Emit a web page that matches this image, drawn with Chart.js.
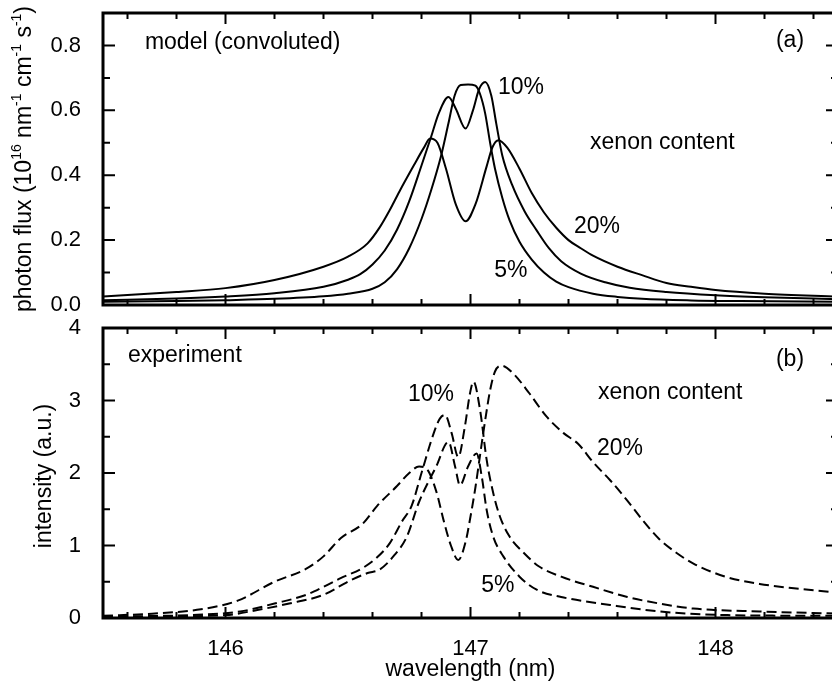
<!DOCTYPE html>
<html>
<head>
<meta charset="utf-8">
<script src="https://cdn.jsdelivr.net/npm/chart.js@4.4.1/dist/chart.umd.min.js"></script>
<style>
html,body{margin:0;padding:0;background:#fff;overflow:hidden;}
#wrap{position:relative;width:832px;height:683px;overflow:hidden;background:#fff;}
canvas{position:absolute;left:0;}
#c1{top:0;}
#c2{top:315px;}
</style>
</head>
<body>
<div id="wrap">
<canvas id="c1" width="850" height="320" style="width:850px;height:320px"></canvas>
<canvas id="c2" width="850" height="368" style="width:850px;height:368px"></canvas>
</div>
<script>
// ---------- data: model (convoluted), panel (a) ----------
const model5Wl = [145.5,145.8,146.0,146.2,146.4,146.5,146.6,146.65,146.7,146.75,146.8,146.84,146.88,146.91,146.935,146.96,146.99,147.02,147.04,147.06,147.08,147.1,147.13,147.16,147.2,147.25,147.3,147.35,147.4,147.5,147.6,147.7,147.9,148.1,148.5];
const model5Flux = [0.010,0.012,0.015,0.019,0.027,0.035,0.05,0.07,0.11,0.175,0.265,0.355,0.46,0.56,0.645,0.678,0.680,0.676,0.648,0.59,0.50,0.42,0.33,0.26,0.195,0.14,0.10,0.072,0.055,0.035,0.025,0.019,0.014,0.012,0.010];

const model10Wl = [145.5,145.8,146.0,146.2,146.4,146.5,146.55,146.6,146.65,146.7,146.75,146.8,146.84,146.87,146.91,146.94,146.98,147.01,147.035,147.06,147.085,147.105,147.13,147.17,147.22,147.27,147.32,147.37,147.45,147.55,147.65,147.8,148.0,148.2,148.5];
const model10Flux = [0.015,0.020,0.026,0.036,0.056,0.078,0.095,0.125,0.168,0.232,0.32,0.43,0.52,0.59,0.641,0.605,0.544,0.60,0.665,0.687,0.645,0.56,0.46,0.37,0.29,0.23,0.175,0.135,0.097,0.07,0.053,0.04,0.03,0.024,0.018];

const model20Wl = [145.5,145.8,146.0,146.2,146.4,146.5,146.58,146.63,146.67,146.71,146.77,146.81,146.835,146.865,146.9,146.94,146.98,147.02,147.065,147.09,147.114,147.15,147.2,147.25,147.3,147.35,147.4,147.45,147.5,147.6,147.7,147.8,147.9,148.0,148.2,148.5];
const model20Flux = [0.026,0.04,0.052,0.077,0.118,0.149,0.19,0.24,0.292,0.35,0.432,0.485,0.513,0.50,0.42,0.31,0.258,0.31,0.425,0.487,0.508,0.485,0.42,0.345,0.285,0.238,0.20,0.175,0.152,0.118,0.092,0.068,0.056,0.046,0.035,0.026];

// ---------- data: experiment, panel (b) ----------
const exp5Wl = [145.5,146.0,146.13,146.26,146.4,146.51,146.58,146.63,146.69,146.74,146.79,146.86,146.91,146.937,146.957,146.99,147.025,147.046,147.066,147.093,147.134,147.2,147.27,147.37,147.57,147.77,148.05,148.5];
const exp5Int = [0.01,0.04,0.11,0.20,0.32,0.52,0.62,0.67,0.87,1.12,1.6,2.09,2.43,2.09,1.83,2.09,2.27,1.95,1.49,1.12,0.85,0.57,0.39,0.29,0.18,0.09,0.04,0.03];

const exp10Wl = [145.5,145.85,146.06,146.2,146.33,146.4,146.47,146.56,146.62,146.67,146.72,146.76,146.8,146.85,146.875,146.896,146.923,146.95,146.977,146.998,147.012,147.039,147.066,147.093,147.12,147.16,147.22,147.28,147.37,147.5,147.64,147.77,147.91,148.18,148.5];
const exp10Int = [0.02,0.04,0.09,0.2,0.32,0.43,0.55,0.69,0.84,1.03,1.33,1.55,2.0,2.55,2.75,2.8,2.55,2.22,2.64,3.1,3.26,2.87,2.18,1.72,1.4,1.12,0.89,0.71,0.57,0.43,0.29,0.2,0.13,0.09,0.06];

const exp20Wl = [145.5,145.7,145.9,146.05,146.2,146.33,146.4,146.47,146.56,146.62,146.7,146.75,146.79,146.82,146.86,146.89,146.92,146.95,146.98,147.0,147.02,147.04,147.06,147.08,147.1,147.127,147.175,147.24,147.31,147.38,147.44,147.5,147.57,147.64,147.7,147.77,147.84,147.91,148.04,148.18,148.32,148.5];
const exp20Int = [0.03,0.06,0.12,0.24,0.5,0.68,0.85,1.1,1.3,1.55,1.82,2.0,2.09,2.06,1.75,1.35,1.0,0.8,1.05,1.4,1.8,2.27,2.73,3.14,3.4,3.48,3.37,3.1,2.78,2.55,2.4,2.15,1.9,1.62,1.36,1.09,0.9,0.75,0.57,0.47,0.41,0.35];

// ---------- axes ----------
const xRange = [145.5, 148.5];
const xTickLabels = [146, 147, 148];
const fluxRange = [0, 0.9];
const fluxTickLabels = [0, 0.2, 0.4, 0.6, 0.8];
const intRange = [0, 4];
const intTickLabels = [0, 1, 2, 3, 4];

const FONT = "'Liberation Sans', Arial, Helvetica, sans-serif";
Chart.defaults.font.family = FONT;
Chart.defaults.font.size = 22;
Chart.defaults.color = '#000';

function pts(xs, ys){ return xs.map((x,i)=>({x:x, y:ys[i]})); }

function minorTicks(lo, hi, step, majors){
  const out = [];
  const n = Math.round((hi-lo)/step);
  for (let i=0;i<=n;i++){
    const v = +(lo + i*step).toFixed(6);
    if (!majors.some(m=>Math.abs(m-v)<1e-6)) out.push(v);
  }
  return out;
}

function noPad(s){ s.paddingTop=0; s.paddingBottom=0; s.paddingLeft=0; s.paddingRight=0; }

function decor(opts){
  return {
    id:'decor',
    afterDatasetsDraw(chart){
      const {ctx, chartArea:a, scales:{x,y}} = chart;
      ctx.save();
      ctx.strokeStyle='#000';
      ctx.lineWidth=2;
      ctx.beginPath();
      const xMaj = xTickLabels, xMin = minorTicks(145.6,148.4,0.2,xMaj);
      xMaj.forEach(v=>{const p=x.getPixelForValue(v);ctx.moveTo(p,a.top);ctx.lineTo(p,a.top+11);ctx.moveTo(p,a.bottom);ctx.lineTo(p,a.bottom-11);});
      xMin.forEach(v=>{const p=x.getPixelForValue(v);ctx.moveTo(p,a.top);ctx.lineTo(p,a.top+6);ctx.moveTo(p,a.bottom);ctx.lineTo(p,a.bottom-6);});
      opts.yMaj.forEach(v=>{const p=y.getPixelForValue(v);ctx.moveTo(a.left,p);ctx.lineTo(a.left+12,p);ctx.moveTo(a.right,p);ctx.lineTo(a.right-12,p);});
      opts.yMin.forEach(v=>{const p=y.getPixelForValue(v);ctx.moveTo(a.left,p);ctx.lineTo(a.left+7,p);ctx.moveTo(a.right,p);ctx.lineTo(a.right-7,p);});
      ctx.stroke();
      ctx.lineWidth=3;
      ctx.strokeRect(a.left,a.top,a.right-a.left,a.bottom-a.top);
      // annotations
      ctx.fillStyle='#000';
      ctx.font='23px '+FONT;
      ctx.textBaseline='middle';
      opts.notes.forEach(n=>{
        ctx.textAlign=n.align||'center';
        ctx.fillText(n.text, x.getPixelForValue(n.x), y.getPixelForValue(n.y));
      });
      // y title (rotated, with superscripts)
      const t = opts.ytitle;
      ctx.save();
      ctx.translate(t.cx, t.cy);
      ctx.rotate(-Math.PI/2);
      ctx.textAlign='left';
      ctx.textBaseline='middle';
      let total=0;
      t.parts.forEach(p=>{ctx.font=(p.sup?'14px ':'23px ')+FONT; total+=ctx.measureText(p.s).width;});
      let cx=-total/2;
      t.parts.forEach(p=>{ctx.font=(p.sup?'14px ':'23px ')+FONT; ctx.fillText(p.s,cx,p.sup?-8:0); cx+=ctx.measureText(p.s).width;});
      ctx.restore();
      ctx.restore();
    }
  };
}

function lineDs(data, dashed){
  return {data, borderColor:'#000', borderWidth:2, pointRadius:0, fill:false,
    cubicInterpolationMode:'monotone', borderDash: dashed?[10,5]:[]};
}

// ---------- panel (a) ----------
new Chart(document.getElementById('c1'), {
  type:'line',
  data:{datasets:[
    lineDs(pts(model5Wl, model5Flux), false),
    lineDs(pts(model10Wl, model10Flux), false),
    lineDs(pts(model20Wl, model20Flux), false)
  ]},
  options:{
    responsive:false, animation:false, devicePixelRatio:1,
    layout:{padding:{top:13,right:12,bottom:15,left:0}},
    plugins:{legend:{display:false}, tooltip:{enabled:false}},
    scales:{
      x:{type:'linear', min:xRange[0], max:xRange[1], display:false, afterFit:noPad},
      y:{type:'linear', min:fluxRange[0], max:fluxRange[1],
        afterFit(s){s.width=103; noPad(s);},
        afterBuildTicks(s){s.ticks=fluxTickLabels.map(v=>({value:v}));},
        grid:{display:false}, border:{display:false},
        ticks:{padding:14, callback:v=>Number(v).toFixed(1), font:{size:22}}
      }
    }
  },
  plugins:[decor({
    yMaj:fluxTickLabels, yMin:[0.1,0.3,0.5,0.7],
    notes:[
      {text:'model (convoluted)', x:145.671, y:0.809, align:'left'},
      {text:'10%', x:147.206, y:0.671},
      {text:'xenon content', x:147.488, y:0.50, align:'left'},
      {text:'20%', x:147.516, y:0.243},
      {text:'5%', x:147.165, y:0.105},
      {text:'(a)', x:148.304, y:0.815}
    ],
    ytitle:{cx:25, cy:159, parts:[
      {s:'photon flux (10'},{s:'16',sup:true},{s:' nm'},{s:'-1',sup:true},
      {s:' cm'},{s:'-1',sup:true},{s:' s'},{s:'-1',sup:true},{s:')'}
    ]}
  })]
});

// ---------- panel (b) ----------
new Chart(document.getElementById('c2'), {
  type:'line',
  data:{datasets:[
    lineDs(pts(exp5Wl, exp5Int), true),
    lineDs(pts(exp10Wl, exp10Int), true),
    lineDs(pts(exp20Wl, exp20Int), true)
  ]},
  options:{
    responsive:false, animation:false, devicePixelRatio:1,
    layout:{padding:{top:13,right:12,bottom:0,left:0}},
    plugins:{legend:{display:false}, tooltip:{enabled:false}},
    scales:{
      x:{type:'linear', min:xRange[0], max:xRange[1],
        afterFit(s){s.height=65; noPad(s);},
        afterBuildTicks(s){s.ticks=xTickLabels.map(v=>({value:v}));},
        grid:{display:false}, border:{display:false},
        ticks:{padding:10, maxRotation:0, font:{size:22}},
        title:{display:true, text:'wavelength (nm)', font:{size:23}, padding:{top:0,bottom:0}}
      },
      y:{type:'linear', min:intRange[0], max:intRange[1],
        afterFit(s){s.width=103; noPad(s);},
        afterBuildTicks(s){s.ticks=intTickLabels.map(v=>({value:v}));},
        grid:{display:false}, border:{display:false},
        ticks:{padding:14, font:{size:22}}
      }
    }
  },
  plugins:[decor({
    yMaj:intTickLabels, yMin:[0.5,1.5,2.5,3.5],
    notes:[
      {text:'experiment', x:145.602, y:3.62, align:'left'},
      {text:'10%', x:146.839, y:3.08},
      {text:'xenon content', x:147.52, y:3.11, align:'left'},
      {text:'20%', x:147.61, y:2.33},
      {text:'5%', x:147.112, y:0.44},
      {text:'(b)', x:148.304, y:3.56}
    ],
    ytitle:{cx:45, cy:476-315, parts:[{s:'intensity (a.u.)'}]}
  })]
});
</script>
</body>
</html>
